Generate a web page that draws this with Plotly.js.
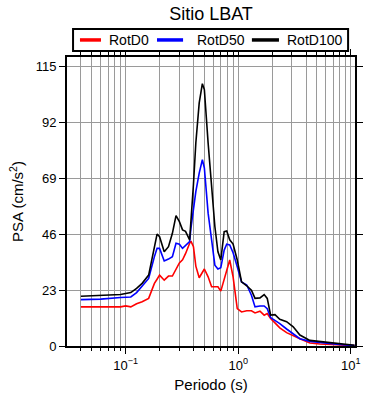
<!DOCTYPE html>
<html>
<head>
<meta charset="utf-8">
<script src="https://cdn.plot.ly/plotly-3.0.1.min.js"></script>
<style>html,body{margin:0;padding:0;background:#fff;}#chart{width:390px;height:400px;}</style>
</head>
<body>
<div id="chart"></div>
<script>
const periods = [0.04, 0.06, 0.09, 0.1, 0.111, 0.125, 0.14, 0.16, 0.18, 0.19, 0.2, 0.22, 0.24, 0.26, 0.28, 0.3, 0.32, 0.34, 0.37, 0.38, 0.4, 0.42, 0.45, 0.48, 0.5, 0.54, 0.58, 0.62, 0.66, 0.7, 0.75, 0.79, 0.84, 0.9, 0.98, 1.07, 1.19, 1.31, 1.41, 1.56, 1.7, 1.81, 1.94, 2.12, 2.34, 2.69, 3.08, 3.53, 4.33, 5.31, 7.47, 10.8];
const rotD0 = [16.1, 16.1, 16.1, 16.5, 16.1, 17.4, 18.2, 19.6, 25.8, 27.5, 29.2, 27.1, 28.8, 28.8, 31.3, 34.2, 35.5, 38.0, 42.3, 43.2, 40.9, 32.9, 28.1, 30.6, 31.7, 28.5, 24.4, 24.4, 24.4, 22.6, 27.8, 31.3, 35.4, 28.5, 15.4, 14.0, 14.5, 14.5, 13.6, 14.3, 12.7, 13.4, 11.3, 9.5, 7.5, 5.5, 4.4, 3.0, 1.2, 0.8, 0.5, 0.15];
const rotD50 = [19.1, 19.3, 20.0, 20.2, 20.2, 22.0, 24.5, 27.8, 36.8, 40.2, 40.2, 35.0, 35.8, 36.8, 42.3, 41.9, 40.2, 41.3, 43.0, 48.5, 56.1, 63.6, 71.2, 76.7, 73.3, 54.7, 43.7, 33.3, 31.7, 32.2, 39.5, 41.9, 41.6, 38.4, 32.6, 26.4, 25.1, 20.9, 16.1, 16.5, 16.5, 15.4, 11.7, 10.6, 9.2, 7.0, 5.1, 3.0, 1.9, 1.4, 0.7, 0.15];
const rotD100 = [20.5, 20.8, 21.2, 21.6, 22.0, 23.7, 25.8, 29.2, 40.9, 46.1, 45.0, 38.8, 40.9, 46.4, 53.7, 51.2, 47.8, 47.2, 43.7, 53.3, 66.5, 83.6, 100.1, 108.0, 105.6, 83.6, 65.7, 49.2, 38.8, 35.4, 47.1, 47.4, 43.7, 42.0, 35.4, 26.4, 24.8, 23.0, 19.6, 19.8, 21.2, 19.6, 12.7, 12.9, 11.0, 10.0, 7.9, 4.5, 2.3, 1.9, 1.0, 0.3];
const seriesNames = ['RotD0', 'RotD50', 'RotD100'];
const seriesColors = ['#ff0000', '#0000ff', '#000000'];
const yTicks = [0, 23, 46, 69, 92, 115];
const xMajorTicks = [0.1, 1, 10];
const xMajorLabels = ['10<sup>−1</sup>', '10<sup>0</sup>', '10<sup>1</sup>'];
const xMinorTicks = [0.03,0.04,0.05,0.06,0.07,0.08,0.09,0.2,0.3,0.4,0.5,0.6,0.7,0.8,0.9,2,3,4,5,6,7,8,9];

const allY = [rotD0, rotD50, rotD100];
const traces = allY.map((ys, i) => ({
  x: periods, y: ys, type: 'scatter', mode: 'lines', name: seriesNames[i],
  line: {color: seriesColors[i], width: 1.6}, showlegend: false
}));

// custom legend (paper coordinates)
const legLineX = [[0.045, 0.118], [0.3125, 0.403], [0.642, 0.736]];
const legTextX = [0.139, 0.444, 0.757];
const legY = 1.059;
const shapes = [{type: 'rect', xref: 'paper', yref: 'paper', x0: 0.021, x1: 0.976, y0: 1.021, y1: 1.097,
  line: {color: '#000', width: 2}, fillcolor: '#fff'}];
const annotations = [];
seriesNames.forEach((n, i) => {
  shapes.push({type: 'line', xref: 'paper', yref: 'paper', x0: legLineX[i][0], x1: legLineX[i][1], y0: legY, y1: legY,
    line: {color: seriesColors[i], width: 3.5}});
  annotations.push({xref: 'paper', yref: 'paper', x: legTextX[i], y: legY, xanchor: 'left', yanchor: 'middle',
    text: n, showarrow: false, font: {size: 14}});
});

const font = 'Liberation Sans, Arial, sans-serif';
const layout = {
  width: 390, height: 400,
  margin: {l: 67, r: 35, t: 57, b: 54},
  paper_bgcolor: '#fff', plot_bgcolor: '#fff',
  font: {family: font, color: '#000', size: 13},
  showlegend: false,
  shapes: shapes, annotations: annotations,
  title: {text: 'Sitio LBAT', font: {size: 18, family: font}, x: 0.5, xref: 'paper', y: 0.967, yref: 'container', yanchor: 'middle'},
  xaxis: {
    type: 'log', range: [Math.log10(0.0301), Math.log10(10.9)],
    tickmode: 'array', tickvals: xMajorTicks, ticktext: xMajorLabels,
    ticks: 'outside', ticklen: 6, tickwidth: 1, tickcolor: '#000',
    showgrid: true, gridcolor: '#9a9a9a', gridwidth: 1,
    minor: {tickmode: 'array', tickvals: xMinorTicks, ticks: 'outside', ticklen: 3, tickcolor: '#000', showgrid: true, gridcolor: '#9a9a9a', gridwidth: 1},
    showline: true, linecolor: '#000', linewidth: 2, mirror: 'ticks',
    zeroline: false,
    title: {text: 'Periodo (s)', font: {size: 15, family: font}, standoff: 8},
    tickfont: {size: 13, family: font}
  },
  yaxis: {
    range: [0, 119], tickmode: 'array', tickvals: yTicks,
    ticks: 'outside', ticklen: 6, tickwidth: 1, tickcolor: '#000',
    showgrid: true, gridcolor: '#9a9a9a', gridwidth: 1,
    showline: true, linecolor: '#000', linewidth: 2, mirror: 'ticks',
    zeroline: false,
    title: {text: 'PSA (cm/s<sup>2</sup>)', font: {size: 15, family: font}, standoff: 8},
    tickfont: {size: 13, family: font}
  }
};
Plotly.newPlot('chart', traces, layout, {staticPlot: true, displayModeBar: false});
</script>
</body>
</html>
